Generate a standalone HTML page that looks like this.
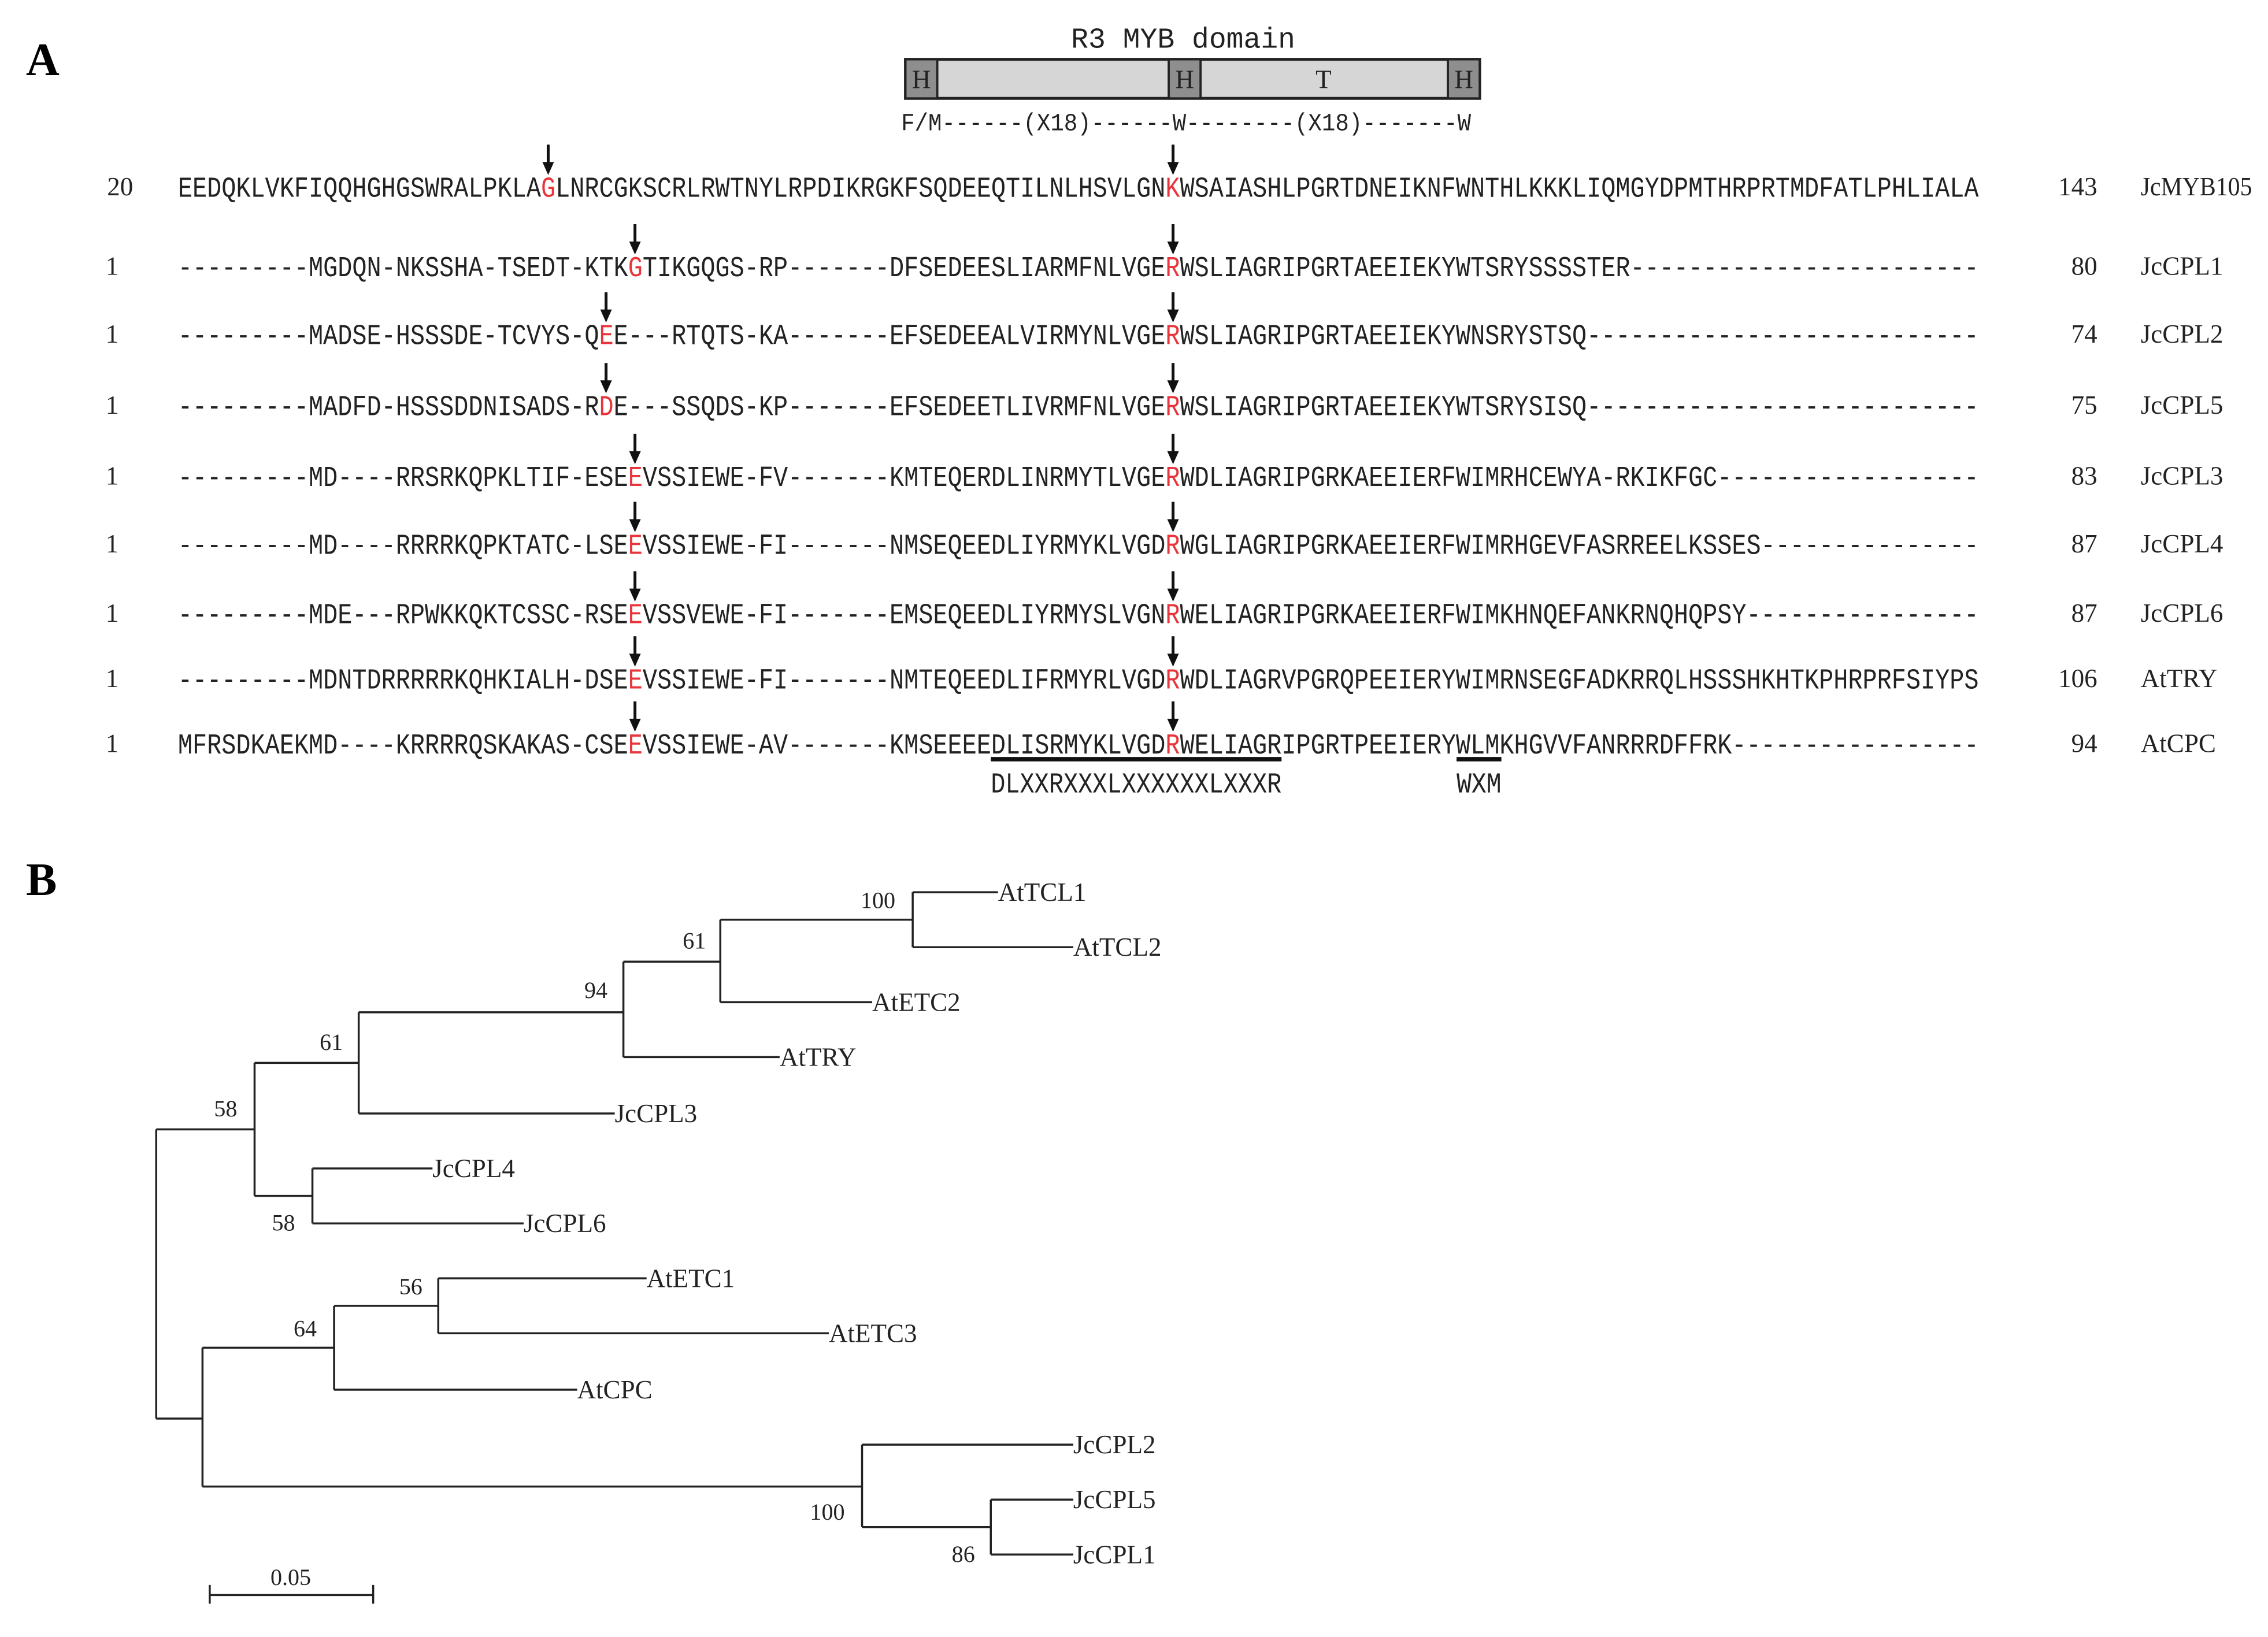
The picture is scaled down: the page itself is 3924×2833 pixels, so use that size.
<!DOCTYPE html>
<html><head><meta charset="utf-8"><style>
html,body{margin:0;padding:0;background:#fff;}
svg{display:block;}
.s{font-family:"Liberation Mono",monospace;font-size:20px;fill:#222;}
.t{font-family:"Liberation Serif",serif;font-size:18px;fill:#222;}
.r{fill:#e8343a;}
.ln{stroke:#222;stroke-width:1.4;fill:none;}
</style></head><body>
<svg width="3924" height="2833" viewBox="0 0 1568 1132" xmlns="http://www.w3.org/2000/svg">
<text x="18" y="52" font-family="Liberation Serif,serif" font-weight="bold" font-size="32" fill="#000">A</text>
<text x="18" y="619" font-family="Liberation Serif,serif" font-weight="bold" font-size="32" fill="#000">B</text>

<!-- domain -->
<text x="818" y="33" class="s" font-size="22" text-anchor="middle" textLength="155" lengthAdjust="spacingAndGlyphs">R3 MYB domain</text>
<rect x="626" y="41" width="397" height="27" fill="#d6d6d6" stroke="#222" stroke-width="2"/>
<rect x="626" y="41" width="22" height="27" fill="#8e8e8e" stroke="#222" stroke-width="1.5"/>
<rect x="808" y="41" width="22" height="27" fill="#8e8e8e" stroke="#222" stroke-width="1.5"/>
<rect x="1001" y="41" width="22" height="27" fill="#8e8e8e" stroke="#222" stroke-width="1.5"/>
<text x="637" y="61" class="t" font-size="19" text-anchor="middle">H</text>
<text x="819" y="61" class="t" font-size="19" text-anchor="middle">H</text>
<text x="1012" y="61" class="t" font-size="19" text-anchor="middle">H</text>
<text x="915" y="61" class="t" font-size="19" text-anchor="middle">T</text>
<text x="623" y="90" class="s" style="font-size:17px" textLength="394" lengthAdjust="spacingAndGlyphs">F/M------(X18)------W--------(X18)-------W</text>

<!-- arrows -->
<defs><g id="ar"><line x1="0" y1="-29" x2="0" y2="-16" stroke="#111" stroke-width="2"/><polygon points="-4,-17 4,-17 0,-8" fill="#111"/></g></defs>
<use href="#ar" x="379" y="129"/><use href="#ar" x="811" y="129"/>
<use href="#ar" x="439" y="184"/><use href="#ar" x="811" y="184"/>
<use href="#ar" x="419" y="231"/><use href="#ar" x="811" y="231"/>
<use href="#ar" x="419" y="280"/><use href="#ar" x="811" y="280"/>
<use href="#ar" x="439" y="329"/><use href="#ar" x="811" y="329"/>
<use href="#ar" x="439" y="376"/><use href="#ar" x="811" y="376"/>
<use href="#ar" x="439" y="424"/><use href="#ar" x="811" y="424"/>
<use href="#ar" x="439" y="469"/><use href="#ar" x="811" y="469"/>
<use href="#ar" x="439" y="514"/><use href="#ar" x="811" y="514"/>

<!-- sequences -->
<g class="s">
<text x="123" y="136" textLength="1245" lengthAdjust="spacingAndGlyphs">EEDQKLVKFIQQHGHGSWRALPKLA<tspan class="r">G</tspan>LNRCGKSCRLRWTNYLRPDIKRGKFSQDEEQTILNLHSVLGN<tspan class="r">K</tspan>WSAIASHLPGRTDNEIKNFWNTHLKKKLIQMGYDPMTHRPRTMDFATLPHLIALA</text>
<text x="123" y="191" textLength="1245" lengthAdjust="spacingAndGlyphs">---------MGDQN-NKSSHA-TSEDT-KTK<tspan class="r">G</tspan>TIKGQGS-RP-------DFSEDEESLIARMFNLVGE<tspan class="r">R</tspan>WSLIAGRIPGRTAEEIEKYWTSRYSSSSTER------------------------</text>
<text x="123" y="238" textLength="1245" lengthAdjust="spacingAndGlyphs">---------MADSE-HSSSDE-TCVYS-Q<tspan class="r">E</tspan>E---RTQTS-KA-------EFSEDEEALVIRMYNLVGE<tspan class="r">R</tspan>WSLIAGRIPGRTAEEIEKYWNSRYSTSQ---------------------------</text>
<text x="123" y="287" textLength="1245" lengthAdjust="spacingAndGlyphs">---------MADFD-HSSSDDNISADS-R<tspan class="r">D</tspan>E---SSQDS-KP-------EFSEDEETLIVRMFNLVGE<tspan class="r">R</tspan>WSLIAGRIPGRTAEEIEKYWTSRYSISQ---------------------------</text>
<text x="123" y="336" textLength="1245" lengthAdjust="spacingAndGlyphs">---------MD----RRSRKQPKLTIF-ESE<tspan class="r">E</tspan>VSSIEWE-FV-------KMTEQERDLINRMYTLVGE<tspan class="r">R</tspan>WDLIAGRIPGRKAEEIERFWIMRHCEWYA-RKIKFGC------------------</text>
<text x="123" y="383" textLength="1245" lengthAdjust="spacingAndGlyphs">---------MD----RRRRKQPKTATC-LSE<tspan class="r">E</tspan>VSSIEWE-FI-------NMSEQEEDLIYRMYKLVGD<tspan class="r">R</tspan>WGLIAGRIPGRKAEEIERFWIMRHGEVFASRREELKSSES---------------</text>
<text x="123" y="431" textLength="1245" lengthAdjust="spacingAndGlyphs">---------MDE---RPWKKQKTCSSC-RSE<tspan class="r">E</tspan>VSSVEWE-FI-------EMSEQEEDLIYRMYSLVGN<tspan class="r">R</tspan>WELIAGRIPGRKAEEIERFWIMKHNQEFANKRNQHQPSY----------------</text>
<text x="123" y="476" textLength="1245" lengthAdjust="spacingAndGlyphs">---------MDNTDRRRRRKQHKIALH-DSE<tspan class="r">E</tspan>VSSIEWE-FI-------NMTEQEEDLIFRMYRLVGD<tspan class="r">R</tspan>WDLIAGRVPGRQPEEIERYWIMRNSEGFADKRRQLHSSSHKHTKPHRPRFSIYPS</text>
<text x="123" y="521" textLength="1245" lengthAdjust="spacingAndGlyphs">MFRSDKAEKMD----KRRRRQSKAKAS-CSE<tspan class="r">E</tspan>VSSIEWE-AV-------KMSEEEEDLISRMYKLVGD<tspan class="r">R</tspan>WELIAGRIPGRTPEEIERYWLMKHGVVFANRRRDFFRK-----------------</text>
<text x="685" y="548" textLength="201" lengthAdjust="spacingAndGlyphs">DLXXRXXXLXXXXXXLXXXR</text>
<text x="1007" y="548" textLength="31" lengthAdjust="spacingAndGlyphs">WXM</text>
</g>
<line x1="685" y1="525" x2="886" y2="525" stroke="#111" stroke-width="3"/>
<line x1="1007" y1="525" x2="1038" y2="525" stroke="#111" stroke-width="3"/>

<g class="t">
<text x="92" y="135" text-anchor="end">20</text>
<text x="82" y="190" text-anchor="end">1</text>
<text x="82" y="237" text-anchor="end">1</text>
<text x="82" y="286" text-anchor="end">1</text>
<text x="82" y="335" text-anchor="end">1</text>
<text x="82" y="382" text-anchor="end">1</text>
<text x="82" y="430" text-anchor="end">1</text>
<text x="82" y="475" text-anchor="end">1</text>
<text x="82" y="520" text-anchor="end">1</text>
<text x="1450" y="135" text-anchor="end">143</text>
<text x="1450" y="190" text-anchor="end">80</text>
<text x="1450" y="237" text-anchor="end">74</text>
<text x="1450" y="286" text-anchor="end">75</text>
<text x="1450" y="335" text-anchor="end">83</text>
<text x="1450" y="382" text-anchor="end">87</text>
<text x="1450" y="430" text-anchor="end">87</text>
<text x="1450" y="475" text-anchor="end">106</text>
<text x="1450" y="520" text-anchor="end">94</text>
<text x="1480" y="135" textLength="77" lengthAdjust="spacingAndGlyphs">JcMYB105</text>
<text x="1480" y="190">JcCPL1</text>
<text x="1480" y="237">JcCPL2</text>
<text x="1480" y="286">JcCPL5</text>
<text x="1480" y="335">JcCPL3</text>
<text x="1480" y="382">JcCPL4</text>
<text x="1480" y="430">JcCPL6</text>
<text x="1480" y="475">AtTRY</text>
<text x="1480" y="520">AtCPC</text>
</g>

<!-- tree -->
<path class="ln" d="
M631,617 H690 M631,655 H742 M631,617 V655
M498,636 H631 M498,693 H603 M498,636 V693
M431,665 H498 M431,731 H539 M431,665 V731
M248,700 H431 M248,770 H425 M248,700 V770
M216,808 H299 M216,846 H362 M216,808 V846
M176,735 H248 M176,827 H216 M176,735 V827
M303,884 H447 M303,922 H573 M303,884 V922
M231,903 H303 M231,961 H399 M231,903 V961
M685,1037 H742 M685,1075 H742 M685,1037 V1075
M596,999 H742 M596,1056 H685 M596,999 V1056
M140,932 H231 M140,1028 H596 M140,932 V1028
M108,781 H176 M108,981 H140 M108,781 V981
M145,1103 H258 M145,1096 V1109 M258,1096 V1109"/>
<g class="t">
<text x="690" y="623">AtTCL1</text>
<text x="742" y="661">AtTCL2</text>
<text x="603" y="699">AtETC2</text>
<text x="539" y="737">AtTRY</text>
<text x="425" y="776">JcCPL3</text>
<text x="299" y="814">JcCPL4</text>
<text x="362" y="852">JcCPL6</text>
<text x="447" y="890">AtETC1</text>
<text x="573" y="928">AtETC3</text>
<text x="399" y="967">AtCPC</text>
<text x="742" y="1005">JcCPL2</text>
<text x="742" y="1043">JcCPL5</text>
<text x="742" y="1081">JcCPL1</text>
<g font-size="16">
<text x="607" y="628" text-anchor="middle">100</text>
<text x="480" y="656" text-anchor="middle">61</text>
<text x="412" y="690" text-anchor="middle">94</text>
<text x="229" y="726" text-anchor="middle">61</text>
<text x="156" y="772" text-anchor="middle">58</text>
<text x="196" y="851" text-anchor="middle">58</text>
<text x="284" y="895" text-anchor="middle">56</text>
<text x="211" y="924" text-anchor="middle">64</text>
<text x="572" y="1051" text-anchor="middle">100</text>
<text x="666" y="1080" text-anchor="middle">86</text>
<text x="201" y="1096" text-anchor="middle">0.05</text>
</g>
</g>
</svg>
</body></html>
